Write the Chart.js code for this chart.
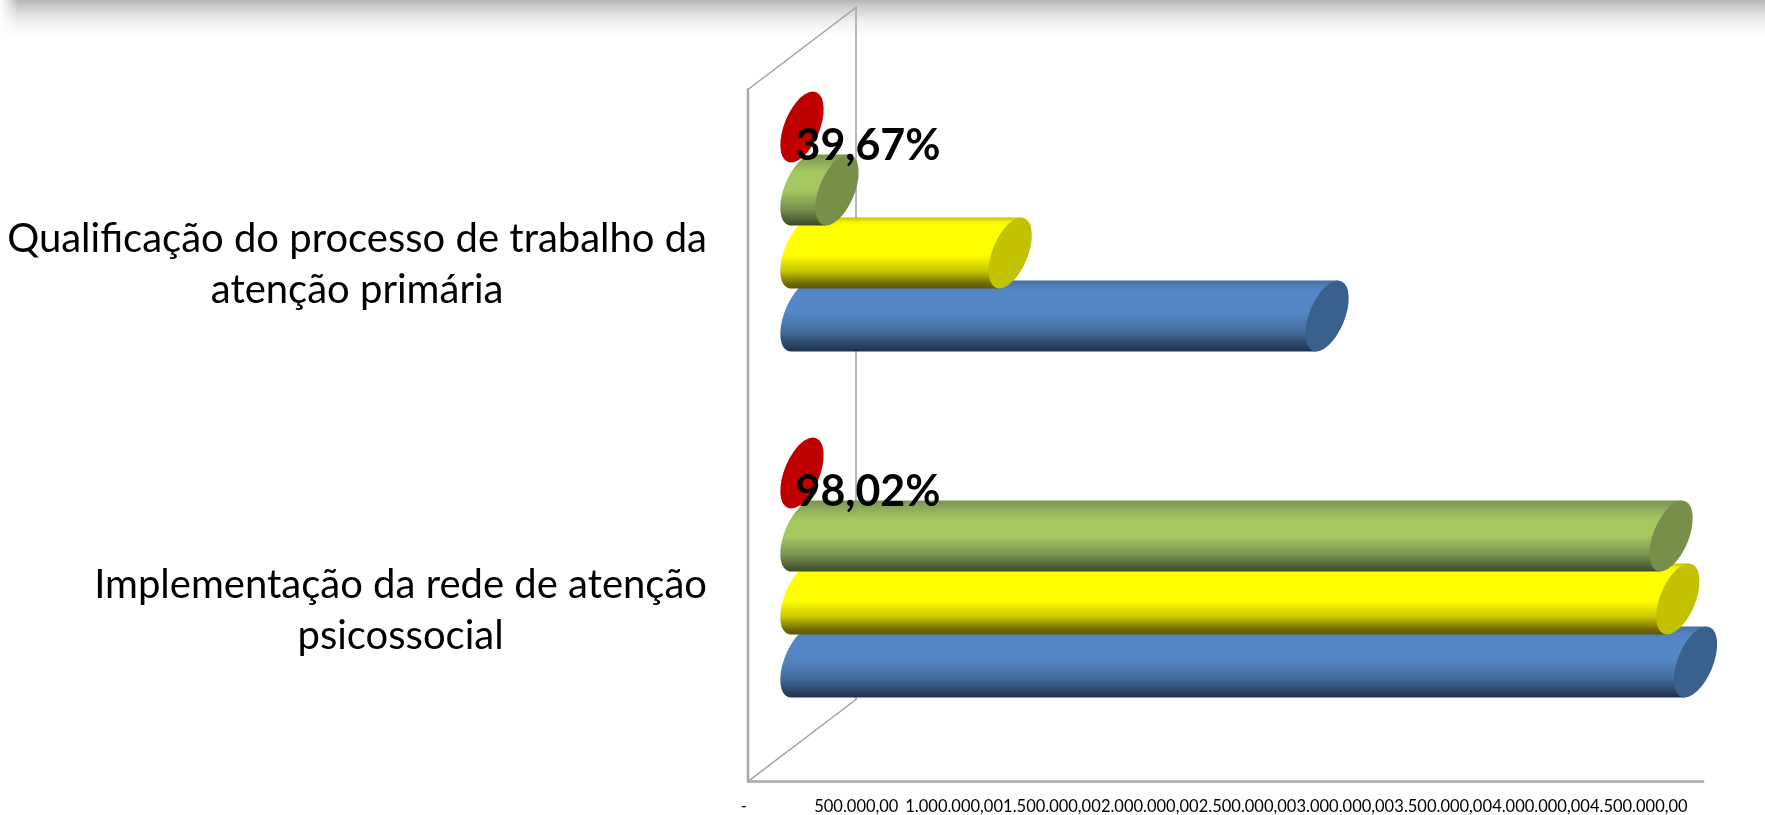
<!DOCTYPE html>
<html><head><meta charset="utf-8">
<style>html,body{margin:0;padding:0;background:#fff;overflow:hidden}canvas{display:block}</style>
<script src="https://cdn.jsdelivr.net/npm/chart.js@4/dist/chart.umd.js"></script>
</head><body><canvas id="c" width="1765" height="815"></canvas>
<script>
const categories = [
  ['Qualificação do processo de trabalho da', 'atenção primária'],
  ['Implementação da rede de atenção', 'psicossocial']
];
const seriesRed = [0, 0];
const seriesGreen = [165000, 4095000];
const seriesYellow = [981000, 4127000];
const seriesBlue = [2474000, 4210000];
const percentLabels = ['39,67%', '98,02%'];
const tickLabels = ['-       ', '500.000,00', '1.000.000,00', '1.500.000,00', '2.000.000,00', '2.500.000,00', '3.000.000,00', '3.500.000,00', '4.000.000,00', '4.500.000,00'];
const axisMax = 4500000;
const labelAxisMax = 4882000;

const FONT = 'Lato';
const DEPTH_X = 54, DEPTH_Y = 41;
const LABEL_RIGHT = 707;

const looks = [
  {cap:'#c00000', stops:[[0,'#c00000'],[1,'#c00000']]},
  {cap:'#778f49', stops:[[0,'#7a9350'],[.06,'#84a056'],[.25,'#a4c760'],[.5,'#a4c760'],[.75,'#7c9650'],[.93,'#4d5e30'],[1,'#3b4a25']]},
  {cap:'#c2c200', stops:[[0,'#c4c000'],[.06,'#f4f400'],[.12,'#ffff00'],[.52,'#ffff00'],[.75,'#c8c800'],[.93,'#716a00'],[1,'#5e5800']]},
  {cap:'#3a618e', stops:[[0,'#466f9f'],[.1,'#5083c0'],[.2,'#5487c8'],[.45,'#5486c6'],[.72,'#456e9e'],[.93,'#27405f'],[1,'#1f324f']]}
];

function capPath(ctx, cx, cy, h) {
  ctx.save();
  ctx.transform(0.264 * h, 0, 0.153 * h, -h / 2, cx, cy);
  ctx.arc(0, 0, 1, 0, Math.PI * 2);
  ctx.restore();
}

const cylinders = {
  id: 'cylinders',
  beforeDatasetDraw(chart, args) {
    const ctx = chart.ctx, look = looks[args.index];
    const x0 = chart.scales.x.getPixelForValue(0);
    args.meta.data.forEach(bar => {
      const h = bar.height, cy = bar.y, x1 = bar.x;
      if (x1 > x0 + 0.5) {
        const g = ctx.createLinearGradient(0, cy - h / 2, 0, cy + h / 2);
        look.stops.forEach(s => g.addColorStop(s[0], s[1]));
        ctx.beginPath();
        const N = 48;
        for (let i = 0; i <= N; i++) {
          const t = Math.PI / 2 + Math.PI * i / N;
          const px = x0 + 0.264 * h * Math.cos(t) + 0.153 * h * Math.sin(t);
          const py = cy - h / 2 * Math.sin(t);
          i ? ctx.lineTo(px, py) : ctx.moveTo(px, py);
        }
        ctx.lineTo(x1 - 0.153 * h, cy + h / 2);
        ctx.lineTo(x1 + 0.153 * h, cy - h / 2);
        ctx.closePath();
        ctx.fillStyle = g;
        ctx.fill();
      }
      ctx.beginPath();
      capPath(ctx, x1, cy, h);
      ctx.fillStyle = look.cap;
      ctx.fill();
    });
    return false;
  }
};

const backdrop = {
  id: 'backdrop',
  beforeDraw(chart) {
    const ctx = chart.ctx, a = chart.chartArea;
    ctx.save();
    // each category label block is centred in itself and right-aligned as a block
    chart.scales.y.getLabelItems().forEach(it => {
      ctx.font = it.font.string;
      const w = Math.max(...[].concat(it.label).map(l => ctx.measureText(l).width));
      it.options.translation[0] = LABEL_RIGHT - w / 2;
    });
    ctx.fillStyle = '#fff';
    ctx.fillRect(0, 0, chart.width, chart.height);
    const g = ctx.createLinearGradient(0, 0, 0, 36);
    g.addColorStop(0, '#b8b8b8');
    g.addColorStop(.28, '#d6d6d6');
    g.addColorStop(.6, '#f0f0f0');
    g.addColorStop(1, '#ffffff');
    ctx.fillStyle = g;
    ctx.fillRect(0, 0, chart.width, 36);
    const e = ctx.createLinearGradient(0, 0, 18, 0);
    e.addColorStop(0, 'rgba(255,255,255,1)');
    e.addColorStop(1, 'rgba(255,255,255,0)');
    ctx.fillStyle = e;
    ctx.fillRect(0, 0, 18, 36);

    const fx = a.left - DEPTH_X, bx = a.left + DEPTH_X;
    const ft = a.top + DEPTH_Y, fb = a.bottom + DEPTH_Y;
    const bt = a.top - DEPTH_Y, bb = a.bottom - DEPTH_Y;
    const rx = a.right - DEPTH_X;
    ctx.lineCap = 'square';
    ctx.strokeStyle = '#a3a3a3';
    ctx.lineWidth = 1.5;
    ctx.beginPath();
    ctx.moveTo(fx, ft); ctx.lineTo(bx, bt); ctx.lineTo(bx, bb); ctx.lineTo(fx, fb);
    ctx.stroke();
    ctx.lineWidth = 2.5;
    ctx.strokeStyle = '#a9a9a9';
    ctx.beginPath();
    ctx.moveTo(fx, ft); ctx.lineTo(fx, fb); ctx.lineTo(rx, fb);
    ctx.stroke();
    ctx.restore();
  }
};

const percentText = {
  id: 'percentText',
  afterDatasetsDraw(chart) {
    const ctx = chart.ctx, bars = chart.getDatasetMeta(0).data;
    ctx.save();
    ctx.font = 'bold 43px ' + FONT;
    ctx.fillStyle = '#000';
    ctx.textAlign = 'center';
    ctx.textBaseline = 'middle';
    bars.forEach((b, i) => ctx.fillText(percentLabels[i], b.x + 66, b.y + 19));
    ctx.restore();
  }
};

new Chart(document.getElementById('c'), {
  type: 'bar',
  data: {
    labels: categories,
    datasets: [
      {label: 'Série 4', data: seriesRed, backgroundColor: '#c00000'},
      {label: 'Série 3', data: seriesGreen, backgroundColor: '#a4c760'},
      {label: 'Série 2', data: seriesYellow, backgroundColor: '#ffff00'},
      {label: 'Série 1', data: seriesBlue, backgroundColor: '#5486c6'}
    ]
  },
  plugins: [backdrop, cylinders, percentText],
  options: {
    indexAxis: 'y',
    responsive: false,
    animation: false,
    categoryPercentage: 0.728,
    barPercentage: 1.127,
    layout: {padding: {top: 48.5, right: 8, left: 0, bottom: 0}},
    plugins: {legend: {display: false}, tooltip: {enabled: false}, title: {display: false}},
    scales: {
      x: {
        display: false,
        min: 0, max: axisMax
      },
      xLabels: {
        axis: 'x',
        position: 'bottom',
        min: 0, max: axisMax,
        grid: {display: false, drawTicks: false},
        border: {display: false},
        afterBuildTicks(s) { s.max = labelAxisMax; },
        afterFit(s) { s.height = 74.5; s.paddingLeft = 0; s.paddingRight = 0; },
        afterTickToLabelConversion(s) { s.ticks.forEach((t, i) => { t.label = tickLabels[i] || ''; }); },
        ticks: {
          stepSize: 500000, autoSkip: false, maxRotation: 0, minRotation: 0,
          labelOffset: -43.5, padding: 56, color: '#000',
          font: {family: FONT, size: 16.5}
        }
      },
      y: {
        grid: {display: false, drawTicks: false},
        border: {display: false},
        afterFit(s) { s.width = 802; s.paddingTop = 0; s.paddingBottom = 0; },
        ticks: {
          crossAlign: 'center', padding: 95, labelOffset: 43, color: '#000',
          autoSkip: false,
          font: {family: FONT, size: 40, lineHeight: 1.29}
        }
      }
    }
  }
});
</script></body></html>
